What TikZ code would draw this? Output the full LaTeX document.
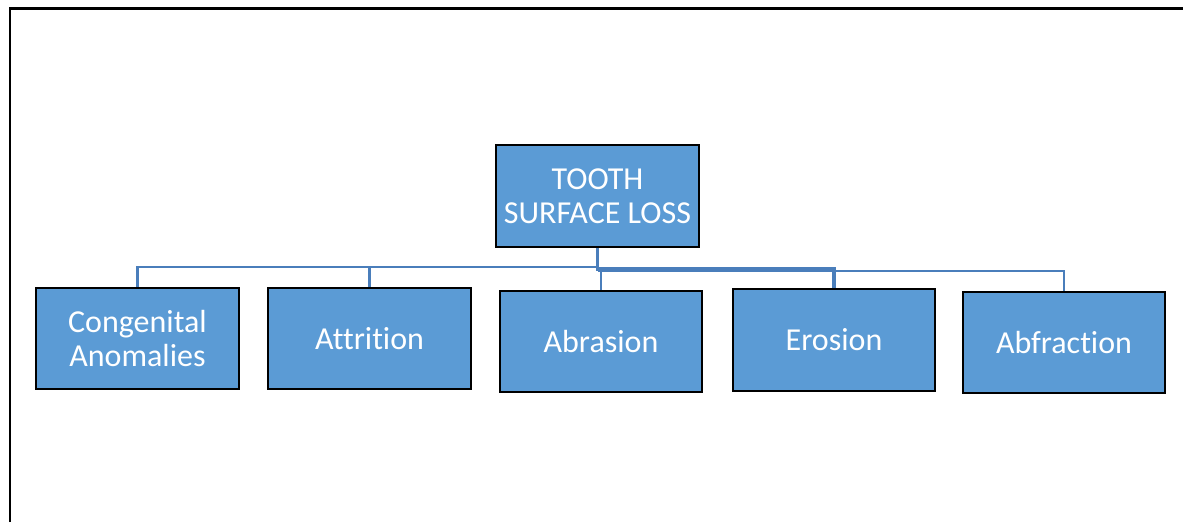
\documentclass[tikz,border=0pt]{standalone}
\usepackage{fontspec}
\setmainfont{Carlito}[Ligatures={NoCommon,NoContextual}]
\definecolor{boxfill}{HTML}{5B9BD5}
\definecolor{linkcol}{HTML}{4A7EBB}
\begin{document}
\begin{tikzpicture}[x=1pt,y=-1pt,
  box/.style={draw=black, line width=2.6pt, fill=boxfill, inner sep=0pt,
    text=white, align=center, font=\fontsize{32}{34.5}\selectfont},
  link/.style={draw=linkcol, line width=2.4pt},
  thicklink/.style={draw=linkcol, line width=3.4pt}]
\useasboundingbox (0,0) rectangle (1183,522);
\fill[white] (0,0) rectangle (1183,522);
% frame
\draw[black, line width=2.2pt] (10,522) -- (10,8.5) -- (1183,8.5);
% connectors (drawn first, boxes on top)
\coordinate (stem) at (597.5,247);
\draw[link] (stem) -- ++(0,20) -| (137.5,289);
\draw[link] (stem) -- ++(0,20) -| (369.5,289);
\draw[link] (stem) -- ++(0,23) -| (601,292);
\draw[thicklink] (stem) -- ++(0,22) -| (834,290);
\draw[link] (597.5,271) -| (1064,292);
% boxes
\node[box, minimum width=203pt, minimum height=102pt] (root) at (597.5,196) {TOOTH\\SURFACE LOSS};
\node[box, minimum width=203pt, minimum height=101pt] (cong) at (137.5,338.5) {Congenital\\Anomalies};
\node[box, minimum width=203pt, minimum height=101pt] (attr) at (369.5,338.5) {Attrition};
\node[box, minimum width=202pt, minimum height=101pt] (abr) at (601,341.5) {Abrasion};
\node[box, minimum width=202pt, minimum height=102pt] (eros) at (834,340) {Erosion};
\node[box, minimum width=202pt, minimum height=101pt] (abfr) at (1064,342.5) {Abfraction};
\end{tikzpicture}
\end{document}
